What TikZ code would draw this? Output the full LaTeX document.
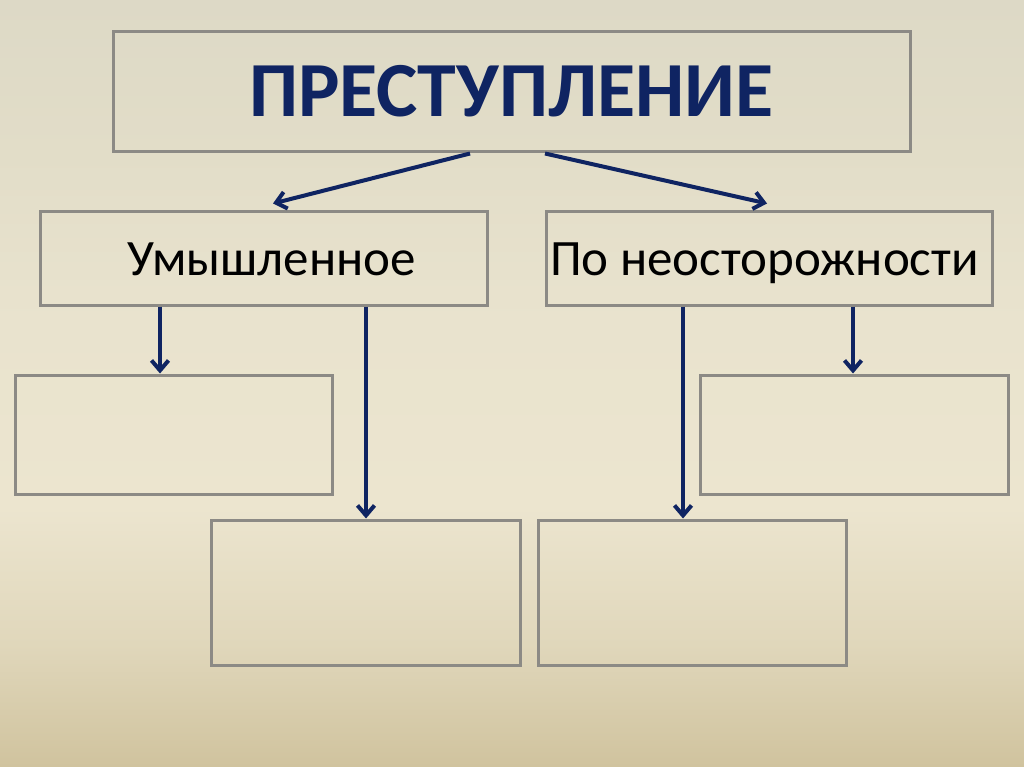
\documentclass[tikz,border=0pt]{standalone}
\usepackage{fontspec}
\setmainfont{Carlito}
\usetikzlibrary{arrows.meta}
\definecolor{bg0}{HTML}{D0C39E}
\definecolor{bg1}{HTML}{E0D7BB}
\definecolor{bg2}{HTML}{ECE5CF}
\definecolor{bg3}{HTML}{E9E3CE}
\definecolor{bg4}{HTML}{E2DDC8}
\definecolor{bg5}{HTML}{DDD9C6}
\definecolor{navy}{HTML}{0F2462}
\definecolor{boxgray}{HTML}{8C8A85}
\pgfdeclareverticalshading{bgshade}{100bp}{color(0bp)=(bg0); color(25bp)=(bg0); color(33bp)=(bg1); color(42bp)=(bg2); color(54bp)=(bg3); color(65bp)=(bg4); color(75bp)=(bg5); color(100bp)=(bg5)}
\tikzset{
  box/.style={draw=boxgray, line width=3pt, rectangle, inner sep=0pt, font=\fontsize{51}{56}\selectfont, text=black, text height=33pt, text depth=0pt},
  arr/.style={draw=navy, line width=4pt, -{Straight Barb[length=10pt, width=17pt, line width=4pt]}},
}
\begin{document}
\begin{tikzpicture}[x=1pt,y=1pt]
\useasboundingbox (0,0) rectangle (1024,-767);
\shade[shading=bgshade] (0,0) rectangle (1024,-767);
\node[box, minimum width=797pt, minimum height=120pt, font=\fontsize{78}{84}\bfseries\selectfont, text=navy, text height=50pt] (top) at (511.5,-92) {ПРЕСТУПЛЕНИЕ};
\node[box, minimum width=447pt, minimum height=93pt] (intent) at (263.5,-258.5) {\hspace*{16pt}Умышленное};
\node[box, minimum width=446pt, minimum height=93pt] (neg) at (769,-258.5) {По неосторожности\hspace*{9pt}};
\node[box, minimum width=317pt, minimum height=119pt] (l1) at (173.5,-434.5) {};
\node[box, minimum width=309pt, minimum height=145pt] (l2) at (365.5,-592.5) {};
\node[box, minimum width=308pt, minimum height=119pt] (r1) at (854,-434.5) {};
\node[box, minimum width=308pt, minimum height=145pt] (r2) at (692,-592.5) {};
\draw[arr] ([xshift=-41.5pt]top.south) -- ([xshift=9.5pt,yshift=7pt]intent.north);
\draw[arr] ([xshift=33.5pt]top.south) -- ([xshift=-2pt,yshift=7pt]neg.north);
\draw[arr] ([xshift=-103.5pt]intent.south) -- ([xshift=-13.5pt]l1.north);
\draw[arr] ([xshift=102.5pt]intent.south) -- ([xshift=0.5pt]l2.north);
\draw[arr] ([xshift=-86pt]neg.south) -- ([xshift=-9pt]r2.north);
\draw[arr] ([xshift=84pt]neg.south) -- ([xshift=-1pt]r1.north);
\end{tikzpicture}
\end{document}
